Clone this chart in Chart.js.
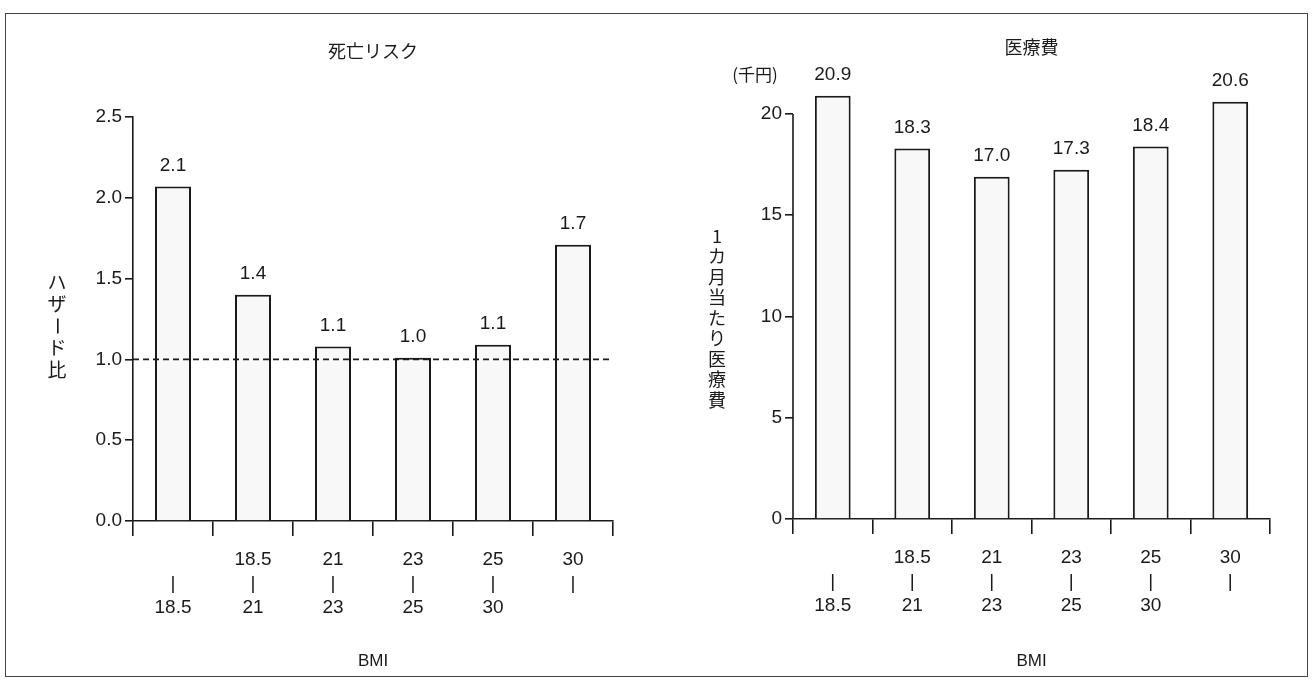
<!DOCTYPE html>
<html><head><meta charset="utf-8">
<script src="https://cdn.jsdelivr.net/npm/chart.js@4/dist/chart.umd.min.js"></script>
<style>
html,body{margin:0;padding:0;background:#fff;}
body{width:1316px;height:692px;overflow:hidden;position:relative;}
#frame{position:absolute;left:5px;top:13px;width:1303px;height:664px;border:1px solid #444;box-sizing:border-box;}
.panel{position:absolute;top:0;height:692px;}
</style></head><body>
<div id="frame"></div>
<div class="panel" style="left:0;width:660px"><canvas id="c1" width="660" height="692"></canvas></div>
<div class="panel" style="left:660px;width:656px"><canvas id="c2" width="656" height="692"></canvas></div>
<script>
// ---- data ----
const categories = [["", "|", "18.5"], ["18.5", "|", "21"], ["21", "|", "23"], ["23", "|", "25"], ["25", "|", "30"], ["30", "|", ""]];
const hazardRatio = [2.07, 1.40, 1.08, 1.01, 1.09, 1.71];
const hazardLabels = ["2.1", "1.4", "1.1", "1.0", "1.1", "1.7"];
const hazardTicks = [0, 0.5, 1.0, 1.5, 2.0, 2.5];
const medicalCost = [20.9, 18.3, 16.9, 17.25, 18.4, 20.6];
const costLabels = ["20.9", "18.3", "17.0", "17.3", "18.4", "20.6"];
const costTicks = [0, 5, 10, 15, 20];
const referenceLine = 1.0;
const xTitle = "BMI";
const leftTitle = "死亡リスク";
const rightTitle = "医療費";
const leftYTitle = "ハザード比";
const rightYTitle = "1カ月当たり医療費";
const rightUnit = "(千円)";

const NUM_FONT = '"Liberation Sans Narrow", "Liberation Sans", "Arimo", sans-serif';
const JP_FONT = '"Noto Sans CJK JP", "Noto Sans", sans-serif';
const INK = '#1a1a1a';

function makePanel(canvas, cfg) {
  const extras = {
    id: 'extras',
    afterDatasetsDraw(chart) {
      const ctx = chart.ctx;
      const area = chart.chartArea;
      const ys = chart.scales.y;
      ctx.save();
      if (cfg.refLine !== undefined) {
        const y = ys.getPixelForValue(cfg.refLine);
        ctx.strokeStyle = INK; ctx.lineWidth = 1.6;
        ctx.setLineDash([6, 4]);
        ctx.beginPath(); ctx.moveTo(area.left, y); ctx.lineTo(area.right, y); ctx.stroke();
        ctx.setLineDash([]);
      }
      if (cfg.manualAxis) {
        const top = ys.getPixelForValue(cfg.ticks[cfg.ticks.length - 1]);
        const bot = ys.getPixelForValue(0);
        ctx.strokeStyle = INK; ctx.lineWidth = 1.6;
        ctx.beginPath(); ctx.moveTo(area.left, top); ctx.lineTo(area.left, bot); ctx.stroke();
      }
      ctx.fillStyle = INK;
      ctx.font = '19px ' + NUM_FONT;
      ctx.textAlign = 'center'; ctx.textBaseline = 'middle';
      chart.getDatasetMeta(0).data.forEach((bar, i) => {
        ctx.fillText(cfg.labels[i], bar.x, bar.y - 21);
      });
      ctx.font = '18px ' + JP_FONT;
      ctx.fillText(cfg.title, (area.left + area.right) / 2, cfg.titleY);
      ctx.font = cfg.yTitleSize + 'px ' + JP_FONT;
      const chars = Array.from(cfg.yTitle);
      const n = chars.length;
      const startY = cfg.yTitleCY - (n - 1) * cfg.yTitleStep / 2;
      chars.forEach((ch, i) => {
        const cy = startY + i * cfg.yTitleStep;
        if (ch === 'ー') {
          ctx.save(); ctx.translate(cfg.yTitleX, cy); ctx.rotate(Math.PI / 2);
          ctx.fillText(ch, 0, 0); ctx.restore();
        } else {
          ctx.fillText(ch, cfg.yTitleX, cy);
        }
      });
      if (cfg.unit) {
        ctx.font = '17px ' + JP_FONT;
        ctx.fillText(cfg.unit, cfg.unitX, cfg.unitY);
      }
      ctx.restore();
    }
  };

  return new Chart(canvas, {
    type: 'bar',
    data: {
      labels: categories,
      datasets: [{
        data: cfg.values,
        backgroundColor: '#f8f8f8',
        borderColor: INK,
        borderWidth: 2,
        borderSkipped: 'bottom',
        categoryPercentage: 1,
        barPercentage: 0.45
      }]
    },
    options: {
      responsive: false,
      animation: false,
      events: [],
      layout: { padding: { left: 0, top: cfg.padTop, right: cfg.padRight, bottom: 0 } },
      plugins: { legend: { display: false }, tooltip: { enabled: false }, title: { display: false } },
      scales: {
        x: {
          type: 'category',
          offset: true,
          grid: { display: true, offset: true, drawOnChartArea: false, drawTicks: true, tickLength: 15, color: INK, lineWidth: 1.6 },
          border: { display: true, color: INK, width: 1.6 },
          ticks: { color: INK, font: { family: NUM_FONT, size: 19, lineHeight: 1.25 }, padding: 12, maxRotation: 0, autoSkip: false },
          title: { display: true, text: xTitle, color: INK, font: { family: '"Liberation Sans", sans-serif', size: 17 }, padding: { top: 0, bottom: 20 } },
          afterFit(scale) { scale.height = cfg.xHeight; }
        },
        y: {
          min: 0,
          max: cfg.max,
          afterBuildTicks(scale) { scale.ticks = cfg.ticks.map(v => ({ value: v })); },
          grid: { display: true, drawOnChartArea: false, drawTicks: true, tickLength: 8, color: INK, lineWidth: 1.6 },
          border: { display: !cfg.manualAxis, color: INK, width: 1.6 },
          ticks: { color: INK, font: { family: NUM_FONT, size: 19 }, padding: 3, callback: cfg.tickFmt },
          afterFit(scale) { scale.width = 133; }
        }
      }
    },
    plugins: [extras]
  });
}

makePanel(document.getElementById('c1'), {
  values: hazardRatio, labels: hazardLabels, ticks: hazardTicks, max: 2.5,
  tickFmt: v => Number(v).toFixed(1),
  padTop: 117, padRight: 47, xHeight: 171,
  refLine: referenceLine, manualAxis: false,
  title: leftTitle, titleY: 51,
  yTitle: leftYTitle, yTitleX: 57, yTitleCY: 326, yTitleStep: 22, yTitleSize: 19
});

makePanel(document.getElementById('c2'), {
  values: medicalCost, labels: costLabels, ticks: costTicks, max: 22,
  tickFmt: v => String(v),
  padTop: 73.5, padRight: 46, xHeight: 173,
  manualAxis: true,
  title: rightTitle, titleY: 47,
  yTitle: rightYTitle, yTitleX: 57, yTitleCY: 318, yTitleStep: 20.5, yTitleSize: 18,
  unit: rightUnit, unitX: 95, unitY: 75
});
</script>
</body></html>
